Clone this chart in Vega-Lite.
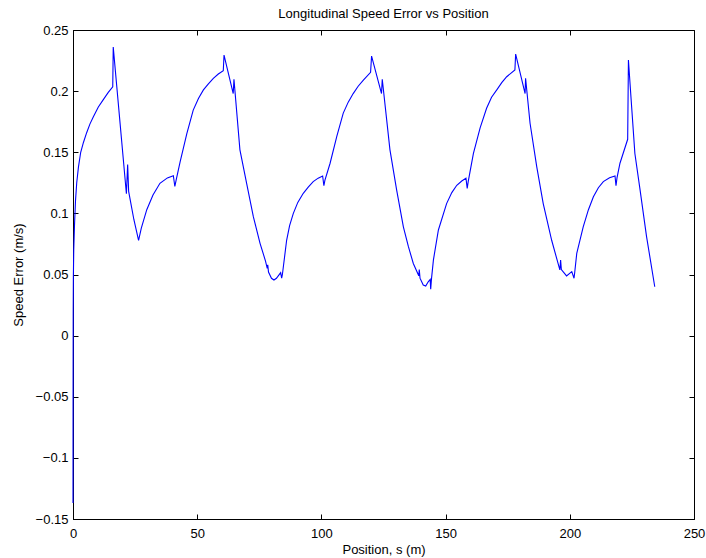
{
  "$schema": "https://vega.github.io/schema/vega-lite/v6.json",
  "width": 621,
  "height": 489,
  "autosize": {"type": "none"},
  "padding": {"left": 73, "top": 30, "right": 12, "bottom": 39},
  "background": "white",
  "config": {
    "font": "Liberation Sans",
    "view": {"stroke": "black", "strokeWidth": 1},
    "axis": {"grid": false, "domainColor": "black", "tickColor": "black", "labelColor": "black", "titleColor": "black", "labelFont": "Liberation Sans", "titleFont": "Liberation Sans", "labelFontSize": 13, "titleFontSize": 13, "titleFontWeight": "normal", "tickSize": -5, "domainWidth": 1, "tickWidth": 1}
  },
  "title": {"text": "Longitudinal Speed Error vs Position", "fontSize": 13, "fontWeight": "normal", "font": "Liberation Sans", "color": "black", "offset": 3},
  "data": {"values": [
    {"s": 0, "v": -0.137}, {"s": 0.03, "v": -0.05}, {"s": 0.08, "v": 0.02}, {"s": 0.15, "v": 0.048}, {"s": 0.3, "v": 0.07}, {"s": 0.6, "v": 0.09}, {"s": 1.0, "v": 0.11}, {"s": 1.5, "v": 0.125}, {"s": 2.2, "v": 0.138}, {"s": 3.1, "v": 0.15}, {"s": 4.2, "v": 0.158}, {"s": 5.5, "v": 0.166}, {"s": 6.8, "v": 0.173}, {"s": 8.2, "v": 0.179}, {"s": 10.2, "v": 0.187}, {"s": 12.2, "v": 0.193}, {"s": 14.2, "v": 0.199}, {"s": 16.0, "v": 0.2036}, {"s": 16.2, "v": 0.236},
    {"s": 21.5, "v": 0.116}, {"s": 22.0, "v": 0.14}, {"s": 22.4, "v": 0.118}, {"s": 24.5, "v": 0.095}, {"s": 26.4, "v": 0.078}, {"s": 27.5, "v": 0.088}, {"s": 29.7, "v": 0.103}, {"s": 32.2, "v": 0.115}, {"s": 35.0, "v": 0.1246}, {"s": 38.0, "v": 0.129}, {"s": 40.4, "v": 0.1308}, {"s": 41.0, "v": 0.122}, {"s": 41.5, "v": 0.127}, {"s": 43.1, "v": 0.142}, {"s": 45.8, "v": 0.165}, {"s": 48.4, "v": 0.1845}, {"s": 50.5, "v": 0.194}, {"s": 52.5, "v": 0.201}, {"s": 54.5, "v": 0.206}, {"s": 56.5, "v": 0.2105}, {"s": 58.5, "v": 0.214}, {"s": 60.5, "v": 0.2167}, {"s": 60.8, "v": 0.2295},
    {"s": 64.5, "v": 0.198}, {"s": 64.8, "v": 0.2097}, {"s": 67.2, "v": 0.152}, {"s": 69.9, "v": 0.1246}, {"s": 72.6, "v": 0.0973}, {"s": 75.3, "v": 0.0755}, {"s": 77.5, "v": 0.061}, {"s": 78.2, "v": 0.055}, {"s": 78.4, "v": 0.058}, {"s": 78.7, "v": 0.052}, {"s": 79.9, "v": 0.0469}, {"s": 80.9, "v": 0.0455}, {"s": 81.9, "v": 0.0469}, {"s": 83.6, "v": 0.0515}, {"s": 84.0, "v": 0.047}, {"s": 84.3, "v": 0.05}, {"s": 86.0, "v": 0.078}, {"s": 87.2, "v": 0.09}, {"s": 88.7, "v": 0.1}, {"s": 90.5, "v": 0.109}, {"s": 92.7, "v": 0.1164}, {"s": 94.7, "v": 0.1215}, {"s": 96.7, "v": 0.126}, {"s": 98.7, "v": 0.1288}, {"s": 100.5, "v": 0.1306}, {"s": 101.0, "v": 0.1226}, {"s": 101.4, "v": 0.127},
    {"s": 103.5, "v": 0.141}, {"s": 106.2, "v": 0.163}, {"s": 108.8, "v": 0.182}, {"s": 110.8, "v": 0.191}, {"s": 112.8, "v": 0.198}, {"s": 114.8, "v": 0.204}, {"s": 116.9, "v": 0.209}, {"s": 119.8, "v": 0.2154}, {"s": 120.2, "v": 0.2287}, {"s": 124.2, "v": 0.198}, {"s": 124.5, "v": 0.2097}, {"s": 127.6, "v": 0.152}, {"s": 130.3, "v": 0.119}, {"s": 133.0, "v": 0.089}, {"s": 135.0, "v": 0.073}, {"s": 137.0, "v": 0.059}, {"s": 139.2, "v": 0.049}, {"s": 139.4, "v": 0.054}, {"s": 139.7, "v": 0.047}, {"s": 141.0, "v": 0.0414}, {"s": 142.0, "v": 0.0405}, {"s": 143.0, "v": 0.044}, {"s": 143.8, "v": 0.046}, {"s": 144.0, "v": 0.038}, {"s": 144.3, "v": 0.046}, {"s": 145.1, "v": 0.062}, {"s": 147.1, "v": 0.0864}, {"s": 150.4, "v": 0.108}, {"s": 152.5, "v": 0.117}, {"s": 154.5, "v": 0.123}, {"s": 156.5, "v": 0.1265}, {"s": 158.2, "v": 0.1287}, {"s": 158.7, "v": 0.1205}, {"s": 159.1, "v": 0.126},
    {"s": 161.2, "v": 0.149}, {"s": 163.9, "v": 0.17}, {"s": 166.5, "v": 0.186}, {"s": 168.5, "v": 0.195}, {"s": 170.6, "v": 0.201}, {"s": 172.6, "v": 0.207}, {"s": 174.6, "v": 0.2118}, {"s": 177.9, "v": 0.2173}, {"s": 178.2, "v": 0.2303}, {"s": 182.0, "v": 0.198}, {"s": 182.2, "v": 0.2105}, {"s": 184.0, "v": 0.1737}, {"s": 186.7, "v": 0.138}, {"s": 189.3, "v": 0.108}, {"s": 192.7, "v": 0.078}, {"s": 196.0, "v": 0.0537}, {"s": 196.3, "v": 0.0618}, {"s": 196.6, "v": 0.054}, {"s": 198.7, "v": 0.0488}, {"s": 200.8, "v": 0.0523}, {"s": 201.7, "v": 0.0469}, {"s": 202.0, "v": 0.052}, {"s": 202.8, "v": 0.0673}, {"s": 205.4, "v": 0.089}, {"s": 207.5, "v": 0.103}, {"s": 209.5, "v": 0.1136}, {"s": 211.5, "v": 0.121}, {"s": 213.5, "v": 0.126}, {"s": 216.0, "v": 0.1292}, {"s": 218.2, "v": 0.1306}, {"s": 218.6, "v": 0.1226}, {"s": 219.0, "v": 0.129}, {"s": 220.2, "v": 0.141}, {"s": 223.3, "v": 0.1606}, {"s": 223.6, "v": 0.2254}, {"s": 224.9, "v": 0.187}, {"s": 226.2, "v": 0.149}, {"s": 228.3, "v": 0.119}, {"s": 230.9, "v": 0.081}, {"s": 234.2, "v": 0.04}
  ]},
  "layer": [
    {
      "mark": {"type": "line", "color": "#0000ff", "strokeWidth": 1.1},
      "encoding": {
        "x": {"field": "s", "type": "quantitative", "scale": {"domain": [0, 250], "nice": false, "zero": false},
              "axis": {"values": [0, 50, 100, 150, 200, 250], "format": "d", "title": "Position, s (m)", "labelPadding": 13, "titlePadding": 3, "labelFlush": false}},
        "y": {"field": "v", "type": "quantitative", "scale": {"domain": [-0.15, 0.25], "nice": false, "zero": false},
              "axis": {"values": [-0.15, -0.1, -0.05, 0, 0.05, 0.1, 0.15, 0.2, 0.25], "format": "~g", "title": "Speed Error (m/s)", "labelPadding": 10, "titlePadding": 10, "labelFlush": false}}
      }
    },
    {
      "mark": {"type": "line", "opacity": 0},
      "encoding": {
        "x": {"field": "s", "type": "quantitative", "axis": {"orient": "top", "values": [0, 50, 100, 150, 200, 250], "labels": false, "title": null, "domain": false}},
        "y": {"field": "v", "type": "quantitative", "axis": {"orient": "right", "values": [-0.15, -0.1, -0.05, 0, 0.05, 0.1, 0.15, 0.2, 0.25], "labels": false, "title": null, "domain": false}}
      }
    }
  ],
  "resolve": {"axis": {"x": "independent", "y": "independent"}}
}
